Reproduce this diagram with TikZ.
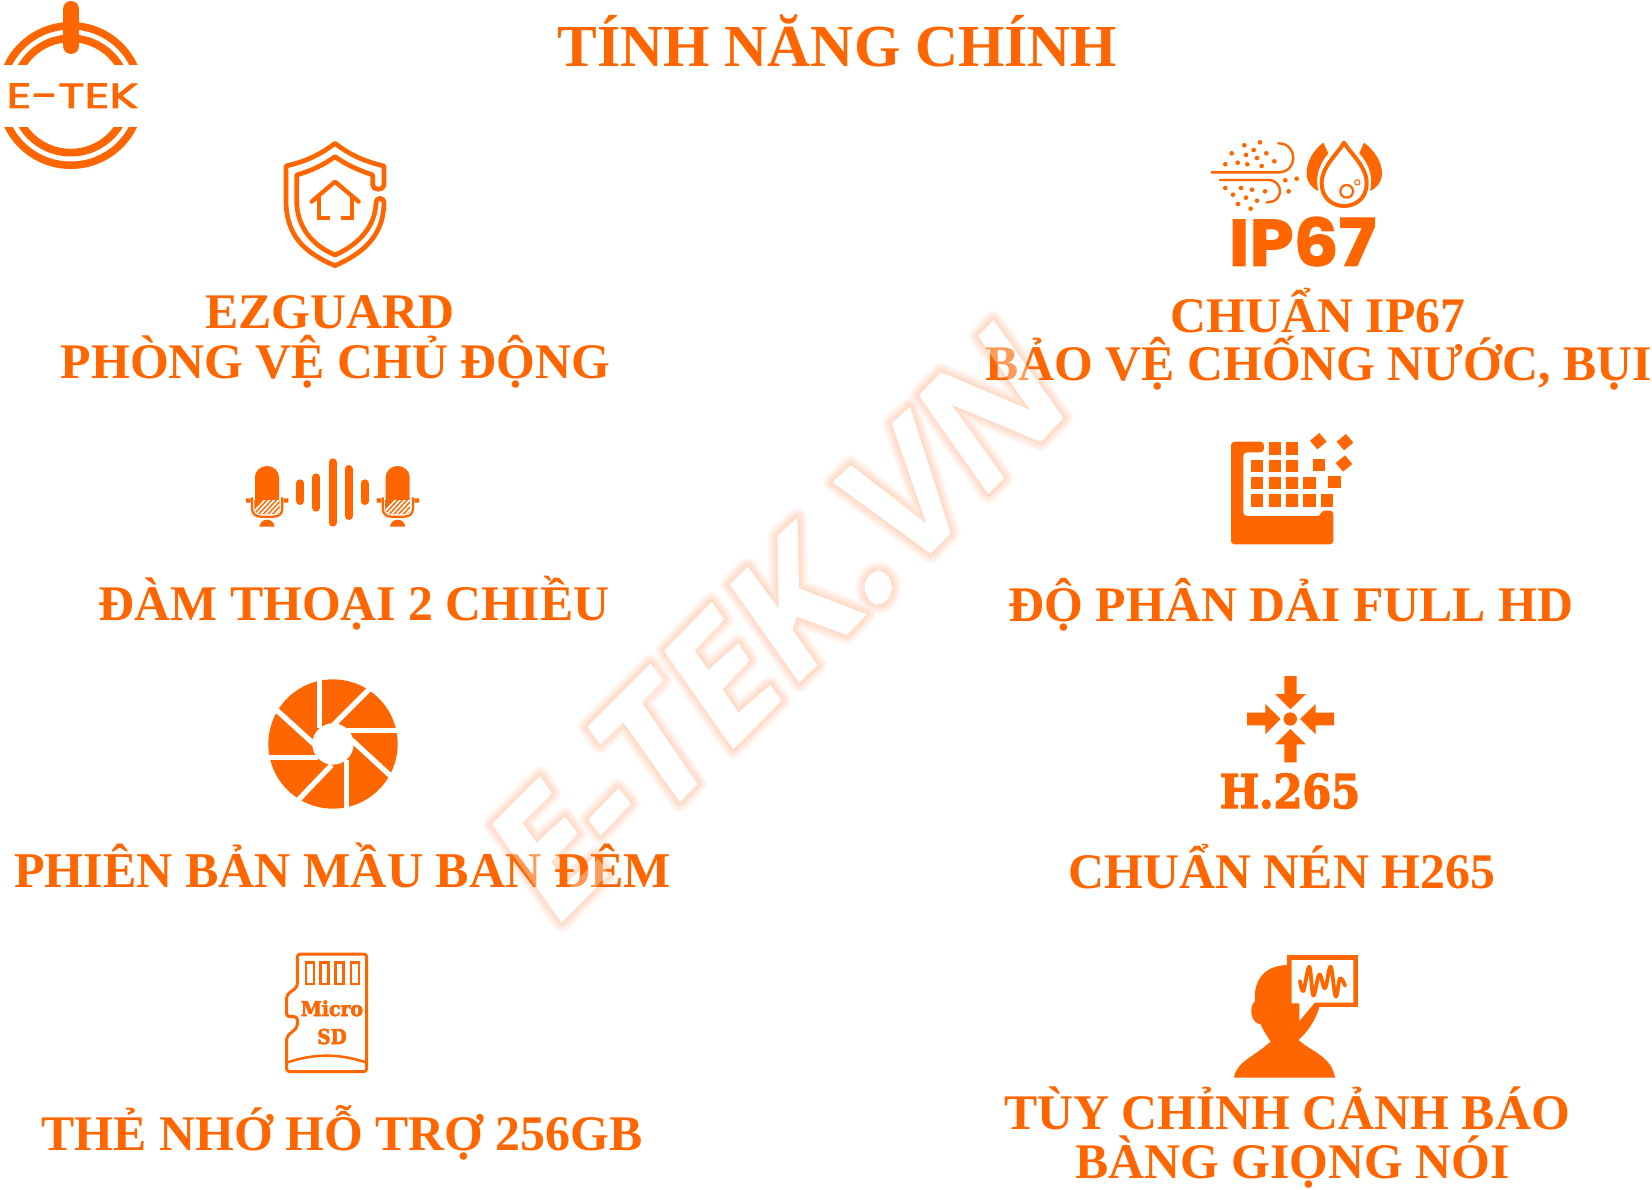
\documentclass[tikz,border=0pt]{standalone}
\usepackage{fontspec}
\setmainfont{Liberation Serif}
\newfontfamily\poppinsfat[BoldFeatures={FakeBold=1.5}]{Poppins}
\newfontfamily\logofont[FakeBold=2]{Poppins}
\newfontfamily\slab[FakeBold=3]{DejaVu Serif Bold}
\newfontfamily\sansbold{Liberation Sans Bold}
\definecolor{etek}{RGB}{255,102,0}
\tikzset{
  lab/.style={anchor=base,inner sep=0pt,text=etek,font=\fontsize{49.8}{50}\selectfont\bfseries},
  ttl/.style={anchor=base,inner sep=0pt,text=etek,font=\fontsize{59.6}{60}\selectfont\bfseries},
  wm/.style={anchor=base west,inner sep=0pt,transform shape},
  ico/.style={draw=etek,line join=round,line cap=round},
  zm/.style={scale=0.33333}
}
% letter outlines of the watermark, in units of 1/3 px from (720,310)
\def\wmpath{
 (-475,1838) -- (-683,1542) -- (-540,1398) -- (-505,1450) -- (-593,1537) -- (-550,1598) -- (-465,1520) -- (-428,1570) -- (-507,1655) -- (-462,1720) -- (-372,1635) -- (-337,1698) -- cycle
 (-395,1528) -- (-305,1435) -- (-268,1480) -- (-358,1575) -- cycle
 (-398,1250) -- (-208,1060) -- (-172,1110) -- (-235,1177) -- (-68,1422) -- (-120,1477) -- (-290,1237) -- (-360,1302) -- cycle
 (40,1318) -- (-167,1022) -- (-25,875) -- (12,928) -- (-77,1020) -- (-35,1080) -- (55,1000) -- (88,1050) -- (7,1137) -- (55,1208) -- (150,1125) -- (185,1172) -- cycle
 (30,822) -- (83,770) -- (177,898) -- (172,678) -- (232,622) -- (237,835) -- (440,913) -- (380,975) -- (230,920) -- (218,960) -- (292,1065) -- (238,1118) -- cycle
 (475,833) ellipse [x radius=40,y radius=50]
 (338,517) -- (392,465) -- (620,643) -- (515,340) -- (570,290) -- (692,670) -- (632,731) -- cycle
 (597,255) -- (663,187) -- (930,300) -- (775,78) -- (820,30) -- (1030,325) -- (962,396) -- (692,282) -- (852,505) -- (805,552) -- cycle
}
\newcommand{\wl}[3]{\rlap{\hspace*{#1pt}\scalebox{#2}[1]{#3}}}
\begin{document}
\begin{tikzpicture}[x=1pt,y=-1pt]
\useasboundingbox (0,0) rectangle (1652,1190);
\fill[white] (0,0) rectangle (1652,1190);
% watermark glow (under everything)
\begin{scope}[shift={(720,310)},zm]
\foreach \w in {20,18,16,14,12,10,8,6,4,2}
  \draw[etek,draw opacity=.025,line join=round,line width=\w] \wmpath;
\fill[white] \wmpath;
\end{scope}
% title and labels
\node[ttl] (title) at (837.5,67) {TÍNH NĂNG CHÍNH};
\node[lab] (l1a) at (330,328.5) {EZGUARD};
\node[lab] (l1b) at (335.5,378) {PHÒNG VỆ CHỦ ĐỘNG};
\node[lab] (r1a) at (1318,332.5) {CHUẨN IP67};
\node[lab] (r1b) at (1318.5,381) {BẢO VỆ CHỐNG NƯỚC, BỤI};
\node[lab] (l2) at (354,620.5) {ĐÀM THOẠI 2 CHIỀU};
\node[lab] (r2) at (1291,621) {ĐỘ PHÂN DẢI FULL HD};
\node[lab,font=\fontsize{50.1}{50}\selectfont\bfseries] (l3) at (342.5,887) {PHIÊN BẢN MẦU BAN ĐÊM};
\node[lab] (r3) at (1282,888.5) {CHUẨN NÉN H265};
\node[lab] (l4) at (342,1150) {THẺ NHỚ HỖ TRỢ 256GB};
\node[lab] (r4a) at (1287,1129) {TÙY CHỈNH CẢNH BÁO};
\node[lab] (r4b) at (1292.5,1178) {BÀNG GIỌNG NÓI};
% logo
\begin{scope}
\clip (0,0) rectangle (145,65);
\fill[etek,even odd rule] (70.7,95.5) circle[radius=73.5] (70.7,95.5) circle[radius=66];
\fill[etek,even odd rule] (70.7,95.5) circle[radius=61] (70.7,95.5) circle[radius=53.3];
\end{scope}
\begin{scope}
\clip (0,127.5) rectangle (145,175);
\fill[etek,even odd rule] (70.7,95.5) circle[radius=73.5] (70.7,95.5) circle[radius=66];
\fill[etek,even odd rule] (70.7,95.5) circle[radius=61] (70.7,95.5) circle[radius=53.3];
\end{scope}
\draw[etek,line width=16,line cap=round] (71,9) -- (71,46);
\node[anchor=base,inner sep=0,text=etek,xscale=1.39,transform shape,font=\logofont\fontsize{35}{35}\selectfont] (logotext) at (72.5,108) {E-TEK};
% shield
\begin{scope}[zm]
\draw[ico,line width=4.7] (1128,610) .. controls (1128,590) and (1152,590) .. (1152,610)
  .. controls (1150,700) and (1100,755) .. (1005,797)
  .. controls (905,755) and (858,700) .. (858,600) -- (858,498)
  .. controls (915,485) and (960,465) .. (1005,430)
  .. controls (1050,465) and (1095,485) .. (1152,498) -- (1152,555)
  .. controls (1152,572) and (1118,572) .. (1118,555) -- (1118,525)
  .. controls (1075,510) and (1040,495) .. (1005,470)
  .. controls (970,495) and (935,512) .. (890,525) -- (890,600)
  .. controls (890,680) and (935,735) .. (1005,765)
  .. controls (1075,735) and (1125,680) .. (1128,610);
\draw[ico,line width=4.3] (935,605) -- (1005,545) -- (1076,605);
\draw[ico,line width=4.3,line cap=butt,line join=miter] (958,590) -- (958,653) -- (990,653);
\draw[ico,line width=4.3,line cap=butt,line join=miter] (1055,590) -- (1055,653) -- (1022,653);
\end{scope}
% IP67
\begin{scope}[shift={(1190,120)},zm]
\draw[ico,line width=2.4] (65,157) -- (265,157) .. controls (325,157) and (325,70) .. (265,70);
\draw[ico,line width=2.4] (90,180) -- (235,180) .. controls (280,180) and (285,247) .. (230,247);
\foreach \px/\py in {210/67,163/76,125/100,191/90,168/105,229/100,201/114,106/133,143/128,172/133,215/138,253/124,286/181,320/176,296/214,106/204,153/204,186/209,225/214,129/224,168/233,201/242,144/252,182/266}
  \fill[etek] (\px,\py) circle[radius=7];
\draw[ico,line width=4] (462,68) .. controls (440,105) and (395,140) .. (395,190)
  .. controls (395,232) and (425,258) .. (462,258)
  .. controls (500,258) and (530,232) .. (530,190)
  .. controls (530,140) and (485,105) .. (462,68) -- cycle;
\draw[ico,line width=2.2] (470,214) circle[radius=19];
\draw[ico,line width=1] (502,187) circle[radius=8];
\fill[etek] (400,68) .. controls (370,90) and (350,125) .. (350,160) .. controls (350,185) and (365,205) .. (385,213)
  .. controls (375,175) and (385,135) .. (415,100) -- cycle;
\fill[etek] (522,68) .. controls (552,90) and (576,125) .. (576,160) .. controls (576,185) and (560,205) .. (540,213)
  .. controls (550,175) and (540,135) .. (508,100) -- cycle;
\end{scope}
\node[anchor=base,inner sep=0,text=etek,xscale=1.07,transform shape,font=\poppinsfat\bfseries\fontsize{66}{66}\selectfont] (ip67) at (1302.5,266) {IP67};
% microphones
\begin{scope}[shift={(230,440)},zm]
\foreach \dx in {0,392}{
\begin{scope}[shift={(\dx,0)}]
\fill[etek] (75,180) -- (75,114) .. controls (75,66) and (147,66) .. (147,114) -- (147,180) -- cycle;
\begin{scope}
\clip (73,180) -- (149,180) -- (149,205) .. controls (149,218) and (140,222) .. (128,222) -- (94,222) .. controls (82,222) and (73,218) .. (73,205) -- cycle;
\fill[etek] (70,175) rectangle (152,225);
\foreach \sx in {60,74,...,172}
  \draw[white,line width=1.7] (\sx,228) -- (\sx+50,174);
\end{scope}
\draw[ico,line width=2.3,line cap=butt] (66,172) -- (66,205) .. controls (66,222) and (78,230) .. (92,230) -- (130,230) .. controls (146,230) and (157,222) .. (157,205) -- (157,172);
\fill[etek] (48,175) rectangle (62,188) (161,175) rectangle (175,188);
\fill[etek] (88,260) .. controls (92,232) and (130,232) .. (134,260) -- cycle;
\end{scope}}
\foreach \bx/\ba/\bb in {211/130/183,259/112/203,308/67/248,356/87/228,404/130/183}
  \draw[etek,line width=8,line cap=round] (\bx,\ba) -- (\bx,\bb);
\end{scope}
% resolution icon
\begin{scope}[shift={(1210,420)},zm]
\fill[etek,rounded corners=3.5] (63,65) -- (162,65) -- (162,97) -- (100,97) -- (100,288) -- (333,288) -- (333,272) -- (370,272) -- (370,373) -- (63,373) -- cycle;
\foreach \sx/\sy in {177/67,228/67,123/119,177/119,228/119,123/171,177/171,228/171,280/171,123/223,177/223,228/223,280/223,333/223,309/117,355/168}
  \fill[etek] (\sx,\sy) rectangle ++(37,37);
\foreach \sx/\sy in {325/65,405/68,402/132}
  \fill[etek] (\sx,\sy) ++(-25,-3) -- ++(28,-23) -- ++(22,26) -- ++(-28,23) -- cycle;
\end{scope}
% aperture
\begin{scope}[shift={(250,665)},zm]
\fill[etek] (249,237) circle[radius=194];
\draw[white,line width=5.3] (209,30) -- (209,190);
\draw[white,line width=5.3] (365,65) -- (240,190);
\draw[white,line width=5.3] (455,196) -- (290,196);
\draw[white,line width=5.3] (435,345) -- (305,225);
\draw[white,line width=5.3] (290,440) -- (290,285);
\draw[white,line width=5.3] (135,415) -- (245,300);
\draw[white,line width=5.3] (45,277) -- (205,277);
\draw[white,line width=5.3] (65,122) -- (195,240);
\fill[white] (249,237) circle[radius=62];
\end{scope}
% H.265
\begin{scope}[shift={(1200,665)},zm]
\fill[etek] (271,162) circle[radius=20];
\fill[etek] (253,33) -- (290,33) -- (290,87) -- (318,87) -- (271,133) -- (225,87) -- (253,87) -- cycle;
\fill[etek] (253,292) -- (290,292) -- (290,238) -- (318,238) -- (271,192) -- (225,238) -- (253,238) -- cycle;
\fill[etek] (141,143) -- (196,143) -- (196,117) -- (242,162) -- (196,208) -- (196,181) -- (141,181) -- cycle;
\fill[etek] (402,143) -- (347,143) -- (347,117) -- (300,162) -- (347,208) -- (347,181) -- (402,181) -- cycle;
\end{scope}
\node[anchor=base,inner sep=0,text=etek,xscale=.89,transform shape,font=\slab\fontsize{46.6}{47}\selectfont] (h265) at (1290,808) {H.265};
% micro SD
\begin{scope}[shift={(270,940)},zm]
\draw[ico,line width=3,rounded corners=3] (82,140) -- (82,42) -- (290,42) -- (290,395) -- (50,395) -- (50,290) -- (82,262) -- (82,230) -- (50,230) -- (50,165) -- cycle;
\foreach \sx in {108,152,197,243}
  \draw[ico,line width=2.5,line join=miter] (\sx,68) rectangle ++(24,64);
\draw[ico,line width=2.5,line cap=butt] (50,368) .. controls (130,340) and (210,340) .. (290,368);
\end{scope}
\node[anchor=base,inner sep=0,text=etek,xscale=.92,transform shape,font=\slab\fontsize{20.5}{21}\selectfont] (micro) at (332,1016) {Micro};
\node[anchor=base,inner sep=0,text=etek,xscale=.9,transform shape,font=\slab\fontsize{20.5}{21}\selectfont] (sd) at (332,1044) {SD};
% person with speech bubble
\begin{scope}[shift={(1220,945)},zm]
\fill[etek] (42,398) .. controls (50,350) and (95,340) .. (152,290)
  .. controls (140,270) and (128,255) .. (122,238)
  .. controls (92,235) and (85,185) .. (105,168)
  .. controls (100,110) and (130,60) .. (205,60) -- (280,60) -- (298,185)
  .. controls (292,215) and (265,260) .. (235,285)
  .. controls (275,320) and (335,335) .. (345,398) -- cycle;
\fill[etek] (200,30) rectangle (413,187);
\fill[white] (215,45) -- (400,45) -- (400,173) -- (284,173) -- (238,228) -- (238,175) -- (215,175) -- cycle;
\draw[ico,line width=3.8] plot[smooth,tension=.6] coordinates {(240,108) (250,138) (268,65) (280,152) (298,88) (315,130) (332,65) (347,155) (360,100) (375,122)};
\end{scope}
% watermark text: white veil over what lies beneath
\begin{scope}[cm={.705,.709,-.978,1.369,(561.7,922.7)}]
\node[wm,text=white,text opacity=.35,font=\sansbold\fontsize{100}{100}\selectfont] (wmveil) at (0,0) {\hbox{\wl{-9}{1.22}{E}\wl{75}{1.75}{-}\wl{134}{1.58}{T}\wl{235}{1.22}{E}\wl{327}{1.48}{K}\wl{431}{1.9}{.}\wl{483}{1.62}{V}\wl{592}{1.83}{N}}};
\end{scope}
\end{tikzpicture}
\end{document}
